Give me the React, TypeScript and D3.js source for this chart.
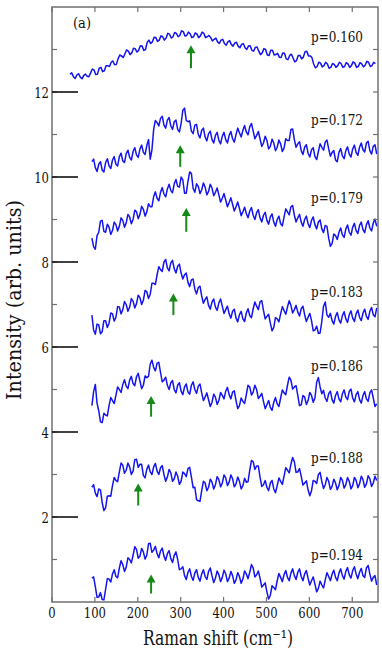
import React from 'react';
import * as d3 from 'd3';

// Raman spectra, read every 4 cm^-1 from the start shift
const STEP = 4;
const labels = ['p=0.160', 'p=0.172', 'p=0.179', 'p=0.183', 'p=0.186', 'p=0.188', 'p=0.194'];
const starts = [42, 93, 93, 93, 93, 93, 93];

const p160 = [12.42, 12.45, 12.36, 12.32, 12.4, 12.43, 12.35, 12.31, 12.39, 12.42, 12.37, 12.36, 12.45, 12.54, 12.52, 12.41, 12.42, 12.56, 12.58, 12.48, 12.5, 12.62, 12.62, 12.6, 12.7, 12.73, 12.64, 12.65, 12.78, 12.87, 12.85, 12.81, 12.9, 12.99, 12.96, 12.88, 12.92, 13.03, 13.02, 12.94, 12.98, 13.09, 13.08, 12.98, 13.0, 13.17, 13.22, 13.14, 13.18, 13.29, 13.28, 13.19, 13.22, 13.32, 13.3, 13.22, 13.27, 13.38, 13.36, 13.27, 13.3, 13.4, 13.38, 13.3, 13.33, 13.44, 13.42, 13.32, 13.33, 13.41, 13.37, 13.28, 13.3, 13.39, 13.36, 13.28, 13.32, 13.41, 13.38, 13.28, 13.3, 13.33, 13.28, 13.2, 13.24, 13.27, 13.18, 13.14, 13.22, 13.24, 13.14, 13.1, 13.18, 13.21, 13.12, 13.08, 13.15, 13.17, 13.08, 13.04, 13.12, 13.14, 13.04, 13.0, 13.08, 13.09, 12.98, 12.96, 13.05, 13.06, 12.96, 12.88, 12.92, 13.02, 13.0, 12.87, 12.86, 12.98, 12.98, 12.87, 12.88, 12.91, 12.82, 12.81, 12.92, 12.91, 12.78, 12.76, 12.86, 12.89, 12.8, 12.71, 12.74, 12.86, 12.86, 12.78, 12.82, 12.95, 12.96, 12.85, 12.85, 12.81, 12.66, 12.57, 12.6, 12.7, 12.68, 12.59, 12.62, 12.7, 12.66, 12.56, 12.58, 12.67, 12.65, 12.58, 12.62, 12.7, 12.67, 12.58, 12.6, 12.69, 12.66, 12.58, 12.62, 12.71, 12.68, 12.58, 12.6, 12.69, 12.66, 12.59, 12.63, 12.72, 12.7, 12.6, 12.62, 12.7, 12.67];
const p172 = [10.36, 10.42, 10.22, 10.13, 10.3, 10.36, 10.16, 10.12, 10.34, 10.43, 10.26, 10.2, 10.4, 10.48, 10.3, 10.26, 10.48, 10.56, 10.38, 10.34, 10.55, 10.63, 10.46, 10.4, 10.6, 10.69, 10.52, 10.46, 10.66, 10.75, 10.58, 10.53, 10.74, 10.88, 10.42, 10.64, 11.12, 11.33, 11.28, 11.2, 11.38, 11.43, 11.22, 11.15, 11.34, 11.4, 11.2, 11.12, 11.3, 11.34, 11.12, 11.06, 11.26, 11.57, 11.62, 11.33, 11.3, 11.32, 11.08, 11.02, 11.22, 11.24, 11.0, 10.92, 11.1, 11.15, 10.94, 10.85, 11.02, 11.08, 10.88, 10.8, 10.98, 11.05, 10.86, 10.78, 10.96, 11.05, 10.88, 10.8, 10.98, 11.07, 10.9, 10.82, 11.0, 11.15, 11.04, 10.94, 11.1, 11.21, 11.06, 10.99, 11.18, 11.26, 11.08, 10.9, 10.98, 11.07, 10.9, 10.72, 10.8, 10.96, 10.86, 10.66, 10.72, 10.89, 10.8, 10.62, 10.7, 10.87, 10.78, 10.6, 10.68, 10.9, 10.86, 10.86, 11.12, 11.13, 10.88, 10.7, 10.78, 10.83, 10.62, 10.53, 10.7, 10.76, 10.56, 10.47, 10.64, 10.69, 10.48, 10.41, 10.6, 10.78, 10.7, 10.63, 10.82, 10.87, 10.66, 10.49, 10.58, 10.62, 10.4, 10.36, 10.58, 10.67, 10.5, 10.43, 10.62, 10.71, 10.54, 10.47, 10.66, 10.75, 10.58, 10.51, 10.7, 10.8, 10.64, 10.59, 10.8, 10.84, 10.62, 10.54, 10.72, 10.76, 10.54];
const p179 = [8.56, 8.36, 8.3, 8.62, 8.7, 8.96, 8.98, 8.72, 8.7, 8.89, 8.82, 8.65, 8.74, 8.94, 8.88, 8.73, 8.84, 9.04, 8.98, 8.82, 8.92, 9.12, 9.06, 8.9, 9.0, 9.22, 9.18, 9.02, 9.12, 9.31, 9.24, 9.08, 9.18, 9.37, 9.3, 9.3, 9.54, 9.65, 9.5, 9.44, 9.64, 9.75, 9.6, 9.53, 9.72, 9.83, 9.68, 9.63, 9.84, 9.94, 9.78, 9.76, 10.0, 9.93, 9.62, 9.62, 9.9, 10.12, 10.08, 9.73, 9.64, 9.84, 9.78, 9.61, 9.7, 9.86, 9.76, 9.58, 9.66, 9.83, 9.74, 9.56, 9.64, 9.74, 9.58, 9.41, 9.5, 9.61, 9.46, 9.3, 9.4, 9.51, 9.36, 9.2, 9.3, 9.41, 9.26, 9.09, 9.18, 9.29, 9.14, 9.04, 9.2, 9.28, 9.1, 9.0, 9.16, 9.23, 9.04, 8.94, 9.1, 9.17, 8.98, 8.89, 9.06, 9.13, 8.94, 8.84, 9.0, 9.08, 8.9, 8.85, 9.06, 9.25, 9.18, 9.11, 9.3, 9.33, 9.1, 8.94, 9.04, 9.12, 8.94, 8.84, 9.0, 9.08, 8.9, 8.81, 8.98, 9.06, 8.88, 8.78, 8.94, 8.99, 8.78, 8.69, 8.86, 8.84, 8.56, 8.37, 8.44, 8.66, 8.62, 8.53, 8.7, 8.8, 8.64, 8.58, 8.78, 8.87, 8.7, 8.63, 8.82, 8.91, 8.74, 8.67, 8.86, 8.94, 8.76, 8.69, 8.88, 8.97, 8.8, 8.73, 8.92, 9.01, 8.84];
const p183 = [6.75, 6.4, 6.3, 6.54, 6.52, 6.31, 6.36, 6.62, 6.62, 6.46, 6.56, 6.8, 6.78, 6.61, 6.7, 6.95, 6.94, 6.78, 6.88, 7.07, 7.0, 6.84, 6.94, 7.14, 7.08, 6.92, 7.02, 7.22, 7.16, 7.0, 7.1, 7.33, 7.3, 7.14, 7.24, 7.5, 7.5, 7.47, 7.7, 7.89, 7.82, 7.78, 8.0, 8.06, 7.86, 7.79, 7.98, 8.04, 7.84, 7.74, 7.9, 7.95, 7.74, 7.6, 7.7, 7.74, 7.52, 7.42, 7.58, 7.6, 7.36, 7.25, 7.4, 7.43, 7.2, 7.03, 7.12, 7.18, 6.98, 6.89, 7.06, 7.13, 6.94, 6.86, 7.04, 7.13, 6.96, 6.79, 6.88, 6.96, 6.78, 6.68, 6.84, 6.89, 6.68, 6.59, 6.76, 6.84, 6.66, 6.6, 6.8, 6.9, 6.74, 6.69, 6.9, 7.06, 6.96, 6.88, 7.06, 7.09, 6.86, 6.66, 6.72, 6.77, 6.56, 6.38, 6.46, 6.69, 6.66, 6.59, 6.78, 6.95, 6.86, 6.77, 6.94, 7.09, 6.98, 6.8, 6.88, 6.98, 6.82, 6.73, 6.9, 6.96, 6.76, 6.6, 6.7, 6.79, 6.62, 6.38, 6.4, 6.49, 6.32, 6.33, 6.6, 6.96, 7.06, 6.75, 6.7, 6.79, 6.62, 6.54, 6.72, 6.81, 6.64, 6.56, 6.74, 6.83, 6.66, 6.58, 6.76, 6.85, 6.68, 6.6, 6.78, 6.87, 6.7, 6.62, 6.8, 6.89, 6.72, 6.65, 6.84, 6.93, 6.76, 6.71, 6.92];
const p186 = [4.62, 4.95, 5.12, 4.68, 4.5, 4.24, 4.22, 4.44, 4.4, 4.38, 4.62, 4.81, 4.74, 4.67, 4.86, 5.06, 5.0, 4.93, 5.12, 5.23, 5.08, 5.02, 5.22, 5.31, 5.14, 5.09, 5.3, 5.38, 5.2, 5.02, 5.1, 5.32, 5.28, 5.31, 5.6, 5.69, 5.52, 5.44, 5.62, 5.64, 5.4, 5.18, 5.22, 5.29, 5.1, 5.0, 5.16, 5.21, 5.0, 4.92, 5.1, 5.16, 4.96, 4.88, 5.06, 5.13, 4.94, 4.89, 5.1, 5.18, 5.0, 4.91, 5.08, 5.13, 4.92, 4.74, 4.82, 4.92, 4.76, 4.6, 4.7, 4.89, 4.82, 4.65, 4.74, 4.93, 4.86, 4.78, 4.96, 5.05, 4.88, 4.78, 4.94, 4.97, 4.74, 4.55, 4.62, 4.8, 4.72, 4.67, 4.88, 5.1, 5.06, 4.87, 4.94, 5.1, 5.0, 4.79, 4.84, 4.91, 4.72, 4.55, 4.64, 4.74, 4.58, 4.51, 4.7, 4.81, 4.66, 4.6, 4.8, 4.99, 4.92, 4.88, 5.1, 5.29, 5.22, 5.01, 5.06, 5.09, 4.86, 4.62, 4.64, 4.86, 4.82, 4.65, 4.74, 4.93, 4.86, 4.7, 4.8, 5.17, 5.28, 5.06, 4.9, 4.98, 4.8, 4.72, 4.9, 4.96, 4.76, 4.68, 4.86, 4.95, 4.78, 4.71, 4.9, 4.99, 4.82, 4.76, 4.96, 5.01, 4.8, 4.71, 4.88, 4.95, 4.76, 4.68, 4.86, 4.95, 4.78, 4.72, 4.92, 4.99, 4.8, 4.6, 4.66];
const p188 = [2.7, 2.76, 2.56, 2.48, 2.66, 2.63, 2.34, 2.15, 2.22, 2.49, 2.5, 2.49, 2.74, 2.93, 2.86, 2.83, 3.06, 3.27, 3.22, 3.03, 3.1, 3.27, 3.18, 3.0, 3.08, 3.35, 3.36, 3.17, 3.24, 3.24, 2.98, 2.92, 3.12, 3.22, 3.06, 3.0, 3.18, 3.26, 3.08, 3.0, 3.16, 3.21, 3.0, 2.84, 2.94, 3.12, 3.04, 2.84, 2.9, 3.06, 2.96, 2.77, 2.84, 3.06, 3.02, 2.95, 3.14, 3.17, 2.94, 2.69, 2.7, 2.41, 2.38, 2.37, 2.62, 2.84, 2.8, 2.62, 2.7, 2.89, 2.82, 2.66, 2.76, 2.95, 2.88, 2.71, 2.8, 2.99, 2.92, 2.74, 2.82, 2.99, 2.9, 2.71, 2.78, 2.94, 2.84, 2.66, 2.74, 2.91, 2.82, 2.83, 3.1, 3.33, 3.3, 3.12, 3.2, 3.2, 2.94, 2.72, 2.76, 2.86, 2.7, 2.62, 2.8, 2.86, 2.66, 2.57, 2.74, 2.92, 2.84, 2.77, 2.96, 3.16, 3.1, 3.04, 3.24, 3.4, 3.3, 3.05, 3.06, 3.14, 2.96, 2.75, 2.8, 2.85, 2.64, 2.5, 2.62, 2.86, 2.84, 2.79, 3.0, 3.05, 2.84, 2.67, 2.76, 2.93, 2.84, 2.65, 2.72, 2.89, 2.8, 2.64, 2.74, 2.93, 2.86, 2.68, 2.76, 2.93, 2.84, 2.66, 2.74, 2.93, 2.86, 2.69, 2.78, 2.96, 2.88, 2.7, 2.78, 2.97, 2.9, 2.72, 2.8, 2.96, 2.86];
const p194 = [0.56, 0.59, 0.36, 0.11, 0.12, 0.22, 0.06, 0.05, 0.3, 0.55, 0.54, 0.47, 0.66, 0.76, 0.6, 0.57, 0.8, 0.97, 0.88, 0.72, 0.82, 1.04, 1.0, 0.92, 1.1, 1.3, 1.24, 1.03, 1.08, 1.26, 1.18, 1.01, 1.1, 1.37, 1.38, 1.17, 1.22, 1.31, 1.14, 1.04, 1.2, 1.27, 1.08, 0.98, 1.14, 1.21, 1.02, 0.93, 1.1, 1.18, 1.0, 0.76, 0.78, 0.83, 0.62, 0.53, 0.7, 0.78, 0.6, 0.51, 0.68, 0.76, 0.58, 0.49, 0.66, 0.76, 0.6, 0.53, 0.72, 0.8, 0.62, 0.46, 0.56, 0.73, 0.64, 0.48, 0.58, 0.75, 0.66, 0.48, 0.56, 0.72, 0.62, 0.44, 0.52, 0.69, 0.6, 0.44, 0.54, 0.73, 0.66, 0.55, 0.7, 0.88, 0.8, 0.59, 0.64, 0.73, 0.56, 0.35, 0.4, 0.45, 0.24, 0.07, 0.16, 0.38, 0.34, 0.29, 0.5, 0.67, 0.58, 0.48, 0.64, 0.74, 0.58, 0.5, 0.68, 0.78, 0.62, 0.53, 0.7, 0.78, 0.6, 0.5, 0.66, 0.74, 0.56, 0.4, 0.5, 0.59, 0.42, 0.24, 0.32, 0.49, 0.4, 0.33, 0.52, 0.69, 0.6, 0.5, 0.66, 0.75, 0.58, 0.5, 0.68, 0.78, 0.62, 0.54, 0.72, 0.81, 0.64, 0.56, 0.74, 0.83, 0.66, 0.55, 0.7, 0.79, 0.62, 0.58, 0.8, 0.86, 0.66, 0.49, 0.58, 0.62, 0.4];
const spectra = [p160, p172, p179, p183, p186, p188, p194];

// green arrows marking the peak (shift, tip, tail intensity)
const arrowShift = [324, 299, 313, 283, 231, 201, 231];
const arrowTip = [13.1, 10.75, 9.27, 7.26, 4.85, 2.79, 0.65];
const arrowTail = [12.56, 10.24, 8.71, 6.75, 4.36, 2.27, 0.2];

const xTicks = [0, 100, 200, 300, 400, 500, 600, 700];
const yMajor = [2, 4, 6, 8, 10, 12];
const yMinor = d3.range(1, 14);

const labelY = [13.18, 11.22, 9.38, 7.18, 5.44, 3.26, 0.99];

const W = 382;
const H = 657;
const L = 52, R = 378, T = 7, B = 602;
// only DejaVu Serif is available as a serif face; squeeze it to Times widths with textLength
const serif = { fontFamily: "'DejaVu Serif', serif" };
const AXIS = '#707070';
const INK = '#111';

const App = () => {
  const x = d3.scaleLinear().domain([0, 760]).range([L, R]);
  const y = d3.scaleLinear().domain([0, 14]).range([B, T]);

  const line = d3
    .line<number[]>()
    .x((d) => x(d[0]))
    .y((d) => y(d[1]));

  return (
    <svg width={W} height={H} style={{ position: 'absolute', left: 0, top: 0, background: '#fff' }}>
      <defs>
        <clipPath id="plot">
          <rect x={L} y={T} width={R - L} height={B - T} />
        </clipPath>
      </defs>

      <g clipPath="url(#plot)">
        {spectra.map((vals, i) => (
          <path
            key={labels[i]}
            d={line(vals.map((v, j) => [starts[i] + j * STEP, v])) || ''}
            fill="none"
            stroke="#1414f0"
            strokeWidth={1.5}
            strokeLinejoin="round"
          />
        ))}
      </g>

      {arrowShift.map((s, i) => {
        const ax = x(s);
        const tip = y(arrowTip[i]);
        const tail = y(arrowTail[i]);
        return (
          <g key={'a' + i} fill="#168a16" stroke="#168a16">
            <line x1={ax} x2={ax} y1={tail} y2={tip + 7} strokeWidth={2} />
            <path d={`M${ax},${tip} L${ax - 4.5},${tip + 8} L${ax + 4.5},${tip + 8} Z`} stroke="none" />
          </g>
        );
      })}

      {labels.map((t, i) => (
        <text
          key={t}
          x={311}
          y={y(labelY[i])}
          style={serif}
          fontSize={15}
          textLength={52}
          lengthAdjust="spacingAndGlyphs"
          fill={INK}
        >
          {t}
        </text>
      ))}

      {/* frame */}
      <rect x={L} y={T} width={R - L} height={B - T} fill="none" stroke={AXIS} strokeWidth={1.5} />

      {xTicks.map((t) => {
        const w = String(t).length * 7.4;
        return (
          <g key={'x' + t}>
            <line x1={x(t)} x2={x(t)} y1={B} y2={B - 5} stroke={AXIS} strokeWidth={1.2} />
            <line x1={x(t)} x2={x(t)} y1={T} y2={T + 5} stroke={AXIS} strokeWidth={1.2} />
            <text
              x={x(t) - w / 2}
              y={B + 16}
              style={serif}
              fontSize={15}
              textLength={w}
              lengthAdjust="spacingAndGlyphs"
              fill={INK}
            >
              {t}
            </text>
          </g>
        );
      })}

      {yMinor.map((t) => (
        <g key={'m' + t}>
          <line x1={L} x2={L + 5} y1={y(t)} y2={y(t)} stroke={AXIS} strokeWidth={1.2} />
          <line x1={R} x2={R - 5} y1={y(t)} y2={y(t)} stroke={AXIS} strokeWidth={1.2} />
        </g>
      ))}

      {yMajor.map((t) => {
        const w = String(t).length * 7.4;
        return (
          <g key={'y' + t}>
            <line x1={L} x2={L + 26} y1={y(t)} y2={y(t)} stroke={INK} strokeWidth={1.6} />
            <text
              x={L - 3 - w}
              y={y(t) + 5.5}
              style={serif}
              fontSize={15}
              textLength={w}
              lengthAdjust="spacingAndGlyphs"
              fill={INK}
            >
              {t}
            </text>
          </g>
        );
      })}

      <text x={73} y={28} style={serif} fontSize={14} textLength={18} lengthAdjust="spacingAndGlyphs" fill={INK}>
        (a)
      </text>

      <text x={143} y={645} style={serif} fontSize={20} textLength={150} lengthAdjust="spacingAndGlyphs" fill={INK}>
        Raman shift (cm⁻¹)
      </text>

      <text
        transform={`translate(${21},${300 + 100}) rotate(-90)`}
        style={serif}
        fontSize={20}
        textLength={200}
        lengthAdjust="spacingAndGlyphs"
        fill={INK}
      >
        Intensity (arb. units)
      </text>
    </svg>
  );
};

export default App;
